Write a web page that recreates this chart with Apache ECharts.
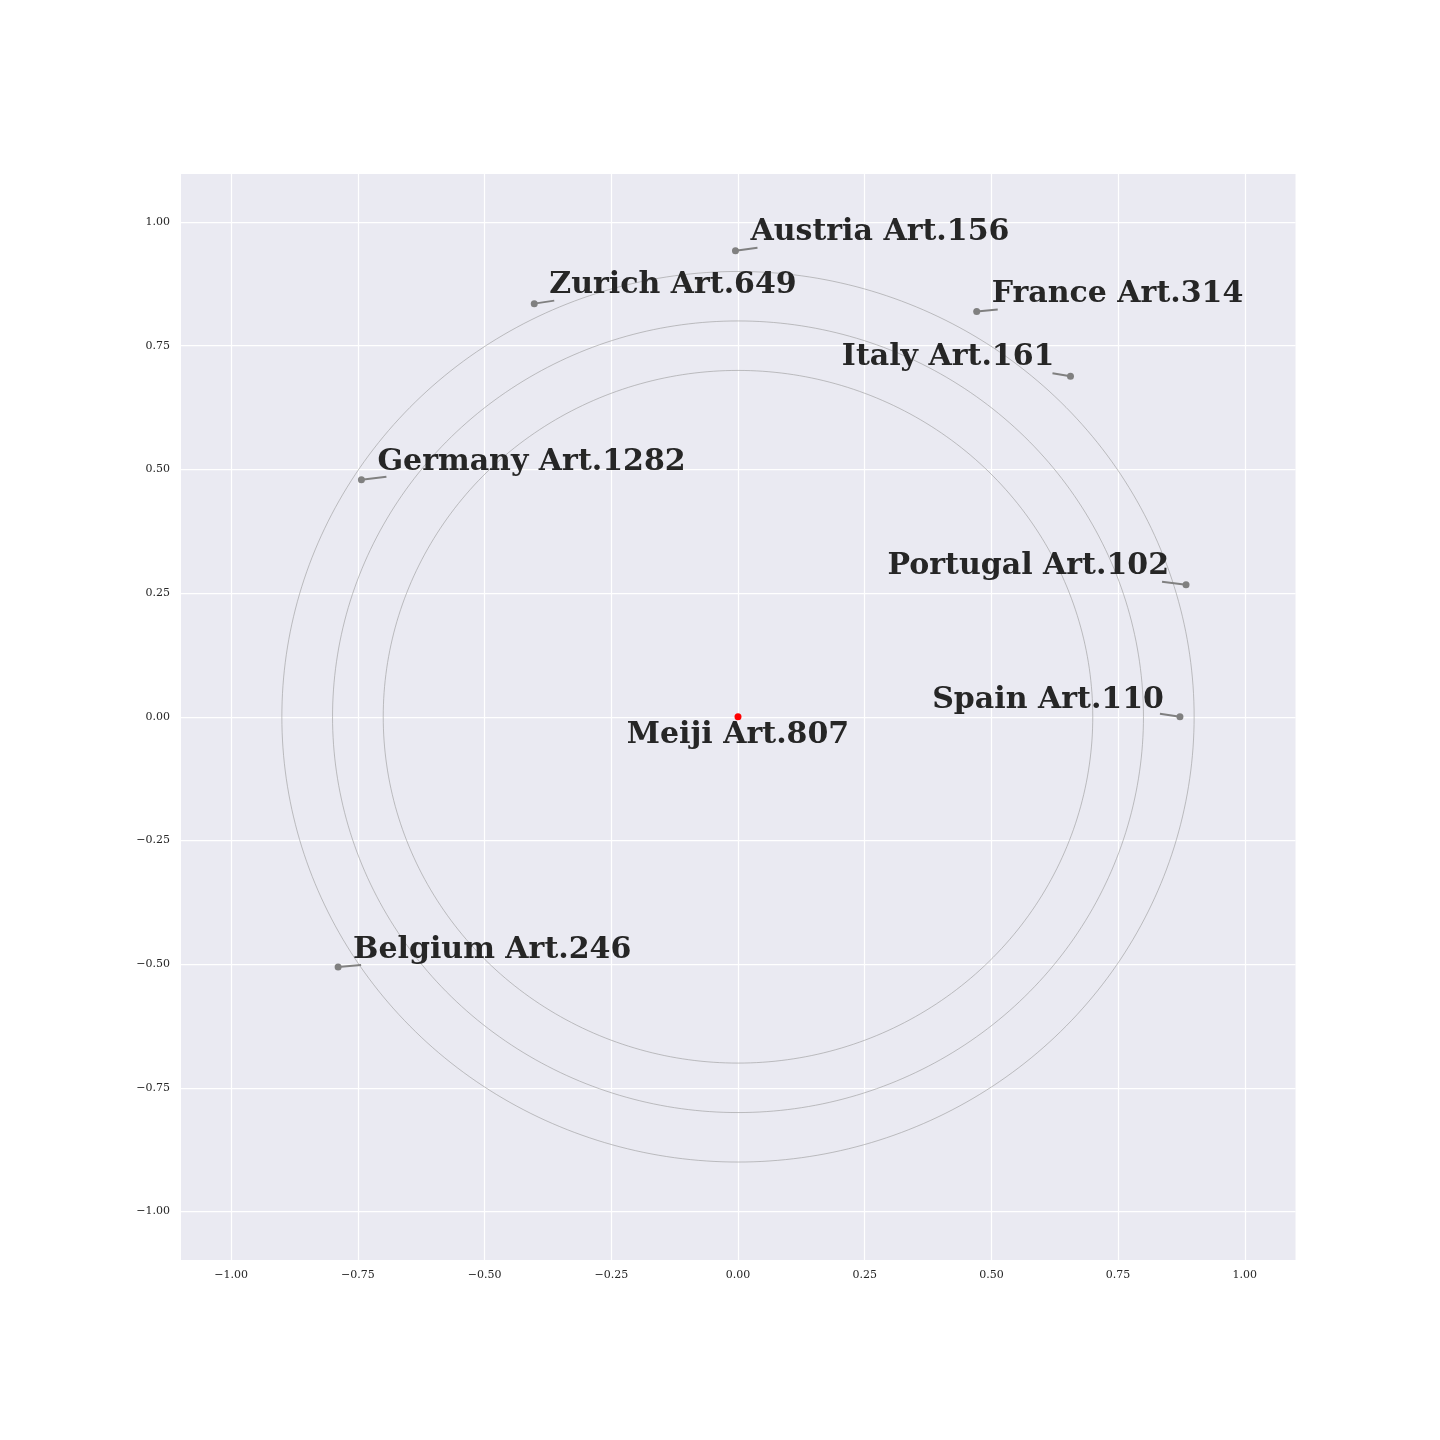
<!DOCTYPE html>
<html><head><meta charset="utf-8">
<script src="https://cdn.jsdelivr.net/npm/echarts@6/dist/echarts.min.js"></script>
<style>html,body{margin:0;padding:0;background:#fff}#c{width:1440px;height:1440px}</style>
</head><body><div id="c"></div>
<script>
// ---- data ----
const names = ['Meiji Art.807','Austria Art.156','Zurich Art.649','France Art.314','Italy Art.161','Germany Art.1282','Portugal Art.102','Spain Art.110','Belgium Art.246'];
const xs = [0, -0.005, -0.402, 0.471, 0.656, -0.743, 0.884, 0.872, -0.789];
const ys = [0, 0.942, 0.835, 0.819, 0.688, 0.479, 0.267, 0.0, -0.506];
const radii = [0.7, 0.8, 0.9];
const tickValues = [-1.0, -0.75, -0.5, -0.25, 0, 0.25, 0.5, 0.75, 1.0];

// ---- label layout (pixel offsets from point): text anchor, text offset, line end offset ----
const labelAlign = ['center','left','left','left','right','left','right','right','left'];
const textOff = [[0,18],[15,-18],[15,-18],[15,-17],[-16,-19],[16,-18],[-17,-18],[-16,-17],[15,-17]];
const lineOff = [null,[22,-3],[20,-3],[21,-2],[-18,-3],[25,-3],[-24,-3],[-20,-3],[23,-2]];

const fmt = v => { const s = Math.abs(v).toFixed(2); return (v < 0 ? '\u2212' : '') + s; };
const axisCommon = {
  type: 'value',
  axisLine: {show: false},
  axisTick: {show: false, customValues: tickValues},
  axisLabel: {customValues: tickValues, formatter: fmt, fontFamily: 'DejaVu Serif', fontSize: 11, color: '#262626'},
  splitLine: {show: true, lineStyle: {color: '#ffffff', width: 1.25}}
};

const pts = xs.map((x, i) => [x, ys[i], i]);

const chart = echarts.init(document.getElementById('c'), null, {renderer: 'canvas'});
chart.setOption({
  animation: false,
  backgroundColor: '#ffffff',
  grid: {left: 181, right: 144.5, top: 174, bottom: 180, show: true, backgroundColor: '#EAEAF2', borderWidth: 0},
  xAxis: Object.assign({}, axisCommon, {min: -1.099, max: 1.1, axisLabel: Object.assign({}, axisCommon.axisLabel, {margin: 10})}),
  yAxis: Object.assign({}, axisCommon, {min: -1.098, max: 1.097, axisLabel: Object.assign({}, axisCommon.axisLabel, {margin: 11})}),
  series: [
    {
      type: 'custom', silent: true, z: 2,
      data: radii.map(r => [0, 0, r]),
      renderItem: (params, api) => {
        const r = api.value(2);
        const points = [];
        for (let k = 0; k <= 360; k++) {
          const a = k * Math.PI / 180;
          points.push(api.coord([r * Math.cos(a), r * Math.sin(a)]));
        }
        return {type: 'polyline', shape: {points}, style: {stroke: '#999999', lineWidth: 0.6, fill: null}};
      }
    },
    {
      type: 'custom', silent: true, z: 3,
      data: pts,
      renderItem: (params, api) => {
        const i = api.value(2);
        const p = api.coord([api.value(0), api.value(1)]);
        const children = [];
        const lo = lineOff[i];
        if (lo) {
          children.push({type: 'line', shape: {x1: p[0], y1: p[1], x2: p[0] + lo[0], y2: p[1] + lo[1]},
            style: {stroke: '#808080', lineWidth: 2}});
        }
        const to = textOff[i];
        children.push({type: 'text', x: p[0] + to[0], y: p[1] + to[1],
          style: {text: names[i], align: labelAlign[i], verticalAlign: 'middle',
            font: 'bold 30px "DejaVu Serif"', fill: '#262626'}});
        return {type: 'group', children};
      }
    },
    {
      type: 'scatter', z: 4, symbolSize: 7,
      data: pts,
      itemStyle: {color: (p) => p.dataIndex === 0 ? '#ff0000' : '#808080', opacity: 1}
    }
  ]
});
</script></body></html>
